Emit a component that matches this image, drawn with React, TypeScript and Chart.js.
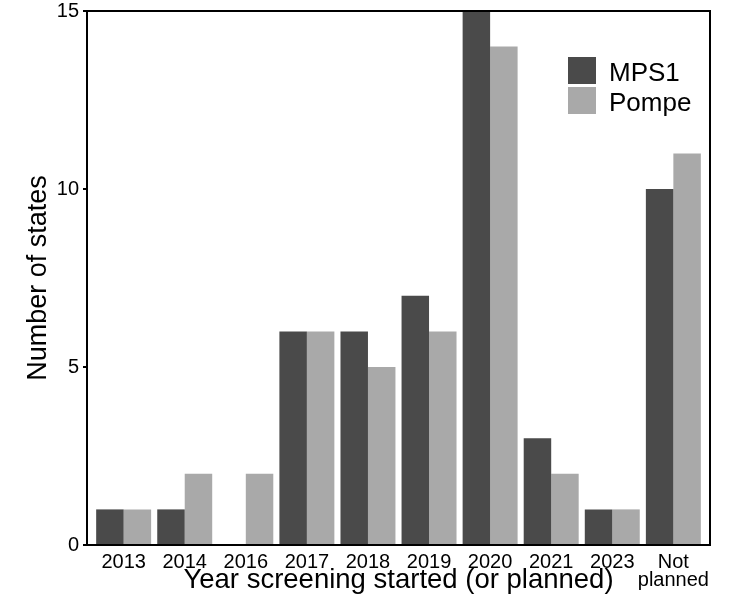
import React, { useEffect, useRef } from "react";
import { Chart, registerables } from "chart.js";

Chart.register(...registerables);

const categories: (string | string[])[] = ["2013", "2014", "2016", "2017", "2018", "2019", "2020", "2021", "2023", ["Not", "planned"]];
const mps1Values = [1, 1, 0, 6, 6, 7, 15, 3, 1, 10];
const pompeValues = [1, 2, 2, 6, 5, 6, 14, 2, 1, 11];
const seriesNames = ["MPS1", "Pompe"];
const seriesColors = ["#4a4a4a", "#a9a9a9"];
const yTicks = [0, 5, 10, 15];

const FONT = "'Liberation Sans', Arial, Helvetica, sans-serif";

const frameAndLegend = {
  id: "frameAndLegend",
  afterDraw(chart: any) {
    const { ctx, chartArea } = chart;
    ctx.save();
    ctx.strokeStyle = "#000";
    ctx.lineWidth = 2;
    ctx.beginPath();
    ctx.moveTo(chartArea.left, chartArea.top);
    ctx.lineTo(chartArea.right, chartArea.top);
    ctx.lineTo(chartArea.right, chartArea.bottom);
    ctx.stroke();
    // legend
    const bx = chartArea.right - 142;
    const by = chartArea.top + 46;
    const bw = 28;
    const bh = 27;
    ctx.font = `26px ${FONT}`;
    ctx.textBaseline = "alphabetic";
    ctx.textAlign = "left";
    seriesNames.forEach((name, i) => {
      ctx.fillStyle = seriesColors[i];
      ctx.fillRect(bx, by + i * 30, bw, bh);
      ctx.fillStyle = "#000";
      ctx.fillText(name, bx + bw + 13, by + i * 30 + 24);
    });
    ctx.restore();
  },
};

export default function App() {
  const ref = useRef<HTMLCanvasElement | null>(null);
  useEffect(() => {
    if (!ref.current) return;
    const chart = new Chart(ref.current, {
      type: "bar",
      data: {
        datasets: [
          {
            label: seriesNames[0],
            data: mps1Values.map((v, i) => ({ x: i, y: v })),
            backgroundColor: seriesColors[0],
            borderWidth: 0,
          },
          {
            label: seriesNames[1],
            data: pompeValues.map((v, i) => ({ x: i, y: v })),
            backgroundColor: seriesColors[1],
            borderWidth: 0,
          },
        ],
      },
      options: {
        responsive: false,
        animation: false,
        layout: { padding: { top: 11, right: 28, left: 0, bottom: 0 } },
        datasets: { bar: { categoryPercentage: 0.9, barPercentage: 1 } },
        plugins: { legend: { display: false }, tooltip: { enabled: false } },
        scales: {
          x: {
            type: "linear",
            min: -0.6,
            max: categories.length - 1 + 0.6,
            offset: false,
            afterBuildTicks: (axis: any) => {
              axis.ticks = categories.map((_, i) => ({ value: i }));
            },
            afterFit: (axis: any) => {
              axis.height = 67;
              axis.paddingLeft = 0;
              axis.paddingRight = 0;
            },
            grid: { display: false, drawTicks: false },
            border: { display: true, color: "#000", width: 2 },
            ticks: {
              autoSkip: false,
              maxRotation: 0,
              padding: 8,
              color: "#000",
              font: { family: FONT, size: 20, lineHeight: 0.92 },
              callback: (v: any) => categories[Math.round(Number(v))] as any,
            },
            title: {
              display: true,
              text: "Year screening started (or planned)",
              color: "#000",
              font: { family: FONT, size: 27.5 },
              padding: { top: 0, bottom: 15 },
            },
          },
          y: {
            min: 0,
            max: 15,
            afterBuildTicks: (axis: any) => {
              axis.ticks = yTicks.map((v) => ({ value: v }));
            },
            afterFit: (axis: any) => {
              axis.width = 87;
              axis.paddingTop = 0;
              axis.paddingBottom = 0;
            },
            grid: { display: true, drawOnChartArea: false, drawTicks: true, tickLength: 4, color: "#000", lineWidth: 2 },
            border: { display: true, color: "#000", width: 2 },
            ticks: {
              padding: 4,
              color: "#000",
              font: { family: FONT, size: 20 },
            },
            title: {
              display: true,
              text: "Number of states",
              color: "#000",
              font: { family: FONT, size: 27 },
              padding: { top: 22, bottom: 0 },
            },
          },
        },
      } as any,
      plugins: [frameAndLegend],
    });
    return () => chart.destroy();
  }, []);
  return (
    <canvas
      ref={ref}
      width={738}
      height={612}
      style={{ position: "absolute", left: 0, top: 0, width: 738, height: 612 }}
    />
  );
}
